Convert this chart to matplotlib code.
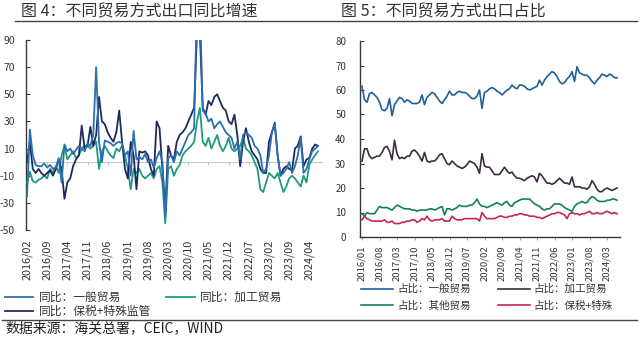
import numpy as np
import pandas as pd
import matplotlib
matplotlib.use("Agg")
import matplotlib.pyplot as plt
from matplotlib.lines import Line2D

plt.rcParams['font.family'] = ['Noto Sans CJK SC', 'DejaVu Sans']
plt.rcParams['axes.unicode_minus'] = False

# ---------------- data ----------------
yoy_months = pd.period_range("2016-02", "2024-07", freq="M").strftime("%Y/%m").tolist()
share_months = pd.period_range("2016-01", "2024-07", freq="M").strftime("%Y/%m").tolist()

yoy_ticks = ["2016/02", "2016/09", "2017/04", "2017/11", "2018/06", "2019/01", "2019/08",
             "2020/03", "2020/10", "2021/05", "2021/12", "2022/07", "2023/02", "2023/09", "2024/04"]
share_ticks = ["2016/01", "2016/08", "2017/03", "2017/10", "2018/05", "2018/12", "2019/07",
               "2020/02", "2020/09", "2021/04", "2021/11", "2022/06", "2023/01", "2023/08", "2024/03"]

# year-on-year growth, %
yoy_general = [-25, 24, 5, -2, -3, -3, -1, -4, -2, -5,
               -4, 3, -15, 13, 8, 10, 6, 9, 12, 10,
               8, 14, 12, 20, 70, 15, 0, 16, 15, 14,
               12, 14, 15, 14, 5, 8, -10, 23, 2, 4,
               2, 6, 0, 2, -4, 3, 8, 0, -40, 3,
               5, 0, 8, 5, 10, 15, 20, 22, 25, 120,
               120, 38, 36, 30, 32, 25, 28, 30, 26, 22,
               20, 18, 10, 15, 2, 20, 22, 20, 18, 12,
               10, 5, -8, -5, 5, 22, 28, 5, -10, -8,
               -5, 0, -8, -3, 5, 18, -8, -5, 2, 8,
               10, 12]
yoy_processing = [-15, -7, -14, -15, -13, -12, -10, -12, -5, -8,
                  -3, -8, 5, 12, 2, 5, 8, 3, 5, 10,
                  12, 12, 10, 12, 15, -5, 8, 12, 8, 5,
                  3, 10, 8, 12, 5, -5, -20, -5, -8, -5,
                  -10, -12, -10, -8, -12, -5, -3, -15, -45, -5,
                  -3, -10, -5, -2, 5, 8, 10, 12, 15, 30,
                  40, 15, 12, 18, 10, 15, 20, 12, 8, 12,
                  18, 10, 8, 10, 12, 18, 10, 8, 5, 0,
                  -5, -20, -22, -15, -8, -10, -12, -8, -15, -22,
                  -18, -12, -10, -12, -15, -18, -10, -15, -2, 2,
                  5, 8]
yoy_bonded = [0, 15, -5, -8, -5, -8, -10, -8, -6, -10,
              -5, 2, -5, -27, -15, -12, -3, 2, 5, 27,
              10, 12, 26, 12, 20, 48, 30, 28, 22, 18,
              15, 22, 38, 15, -5, -12, 15, 5, -20, 8,
              7, 8, 5, -5, -10, 30, 25, -5, -35, 12,
              5, 2, 15, 20, 22, 25, 30, 35, 40, 95,
              95, 40, 35, 45, 42, 48, 50, 45, 40, 38,
              30, 28, 35, 20, -3, 15, 25, 15, 8, 5,
              2, -5, -8, -8, 15, 22, 29, 5, -10, -5,
              -3, -5, -6, 10, 12, 19, -3, 2, 3, 10,
              13, 12]

# share of total exports, %
share_general = [61.5, 56, 55, 58.5, 59, 58, 57, 55, 52, 51.5,
                 52.5, 56.5, 49.5, 54, 55.5, 57, 56.5, 55, 56, 55.5,
                 54.5, 54.5, 54.5, 55, 58, 54, 57, 58, 59, 58.5,
                 57, 55.5, 54.5, 56, 57.5, 59.5, 58, 58, 59, 59.5,
                 59, 59, 58.5, 57.5, 56.5, 56.5, 57.5, 60, 52.5, 59,
                 59.5, 60.5, 61, 60.5, 59.5, 59, 58, 59, 60, 60.5,
                 62, 61, 60.5, 62, 62, 61.5, 60.5, 60, 60.5, 61,
                 61.5, 64, 62, 64, 65.5, 66.5, 67.5, 67, 65.5, 63.5,
                 62.5, 63, 64.5, 65.5, 67.5, 63.5, 69.5, 67, 66.5, 66,
                 66, 65, 63.5, 62.5, 64, 65, 66.5, 66, 65.5, 66.5,
                 66, 65, 65]
share_processing = [31, 36, 36, 33, 32, 32.5, 33, 33, 34.5, 36.5,
                    37, 35, 31.5, 39.5, 34, 32, 32.5, 32, 33, 33,
                    35, 35.5, 34.5, 33, 31, 34.5, 31, 30.5, 31, 31,
                    32, 33.5, 34, 32, 30, 29.5, 31, 30, 29, 28.5,
                    28, 28.5, 29.5, 31, 30.5, 30, 28.5, 26, 34, 29,
                    28.5, 28.5, 27, 25.5, 25.5, 25.5, 27, 28.5, 27, 26,
                    26.5, 25, 24, 24, 23.5, 23, 24, 24.5, 25, 24.5,
                    22.5, 26, 25, 23.5, 22, 22, 21.5, 22, 23, 24,
                    23, 22, 22, 21.5, 24.5, 20.5, 20.5, 20.5, 20, 20,
                    19.5, 20.5, 23, 21.5, 19.5, 18.5, 18.5, 19.5, 20, 19.5,
                    19, 19.5, 20]
share_other = [9.5, 8.5, 10, 9.5, 9.5, 9.5, 11, 12.5, 12, 12,
               12, 11.5, 11, 12, 13, 12.5, 12, 11.5, 11.5, 11.5,
               11, 11, 10.5, 11, 11, 11, 11, 11.5, 11.5, 11,
               11.5, 12, 12.5, 9, 11.5, 11.5, 11, 11.5, 12, 13,
               12.5, 12.5, 12.5, 13, 13, 14, 15.5, 13.5, 12.5, 12.5,
               12, 12.5, 13, 13.5, 14, 13.5, 13, 14, 14.5, 13,
               12.5, 14, 14.5, 15, 15.5, 15.5, 15.5, 15.5, 14.5, 13.5,
               13, 12.5, 11.5, 11, 11.5, 11.5, 12.5, 13.5, 13.5, 13.5,
               13, 12, 11.5, 11, 10.5, 12.5, 13.5, 14, 14.5, 14,
               14, 15.5, 16.5, 16, 15, 14.5, 14.5, 14.5, 15, 15,
               15.5, 15.5, 15]
share_bonded = [7, 8.5, 7.5, 7, 6.5, 6.5, 6.5, 6.5, 6.5, 7,
                6, 6, 6.5, 5.5, 5.5, 5.5, 6, 6, 6.5, 6.5,
                7, 7, 6, 6.5, 7.5, 7, 8.5, 7, 6.5, 7,
                7, 7, 7.5, 6.5, 6.5, 6.5, 8.5, 7.5, 7, 7,
                7, 7.5, 7.5, 7.5, 7.5, 7.5, 7.5, 6.5, 10, 8.5,
                7.5, 7.5, 7.5, 7.5, 8, 8.5, 8.5, 8, 8, 8.5,
                8.5, 9, 9, 9.5, 9.5, 9, 9, 8.5, 8.5, 8.5,
                8, 8, 7.5, 8, 8.5, 9, 9.5, 9.5, 10, 10,
                9.5, 9, 7.5, 9.5, 10, 9.5, 9.5, 9, 9.5, 9.5,
                10, 10.5, 9.5, 9.5, 10, 9.5, 9.5, 10, 10.5, 10,
                9.5, 10, 9.5]

# ---------------- figure ----------------
W, H = 640, 344
fig = plt.figure(figsize=(W / 100, H / 100), dpi=100)
fig.patch.set_facecolor("white")


def rect(x0, y0, x1, y1):
    """Pixel box (top-left origin) -> figure fraction rect."""
    return [x0 / W, 1 - y1 / H, (x1 - x0) / W, (y1 - y0) / H]


def fx(x):
    return x / W


def fy(y):
    return 1 - y / H


text_col = "#333333"
axis_col = "#3a3a3a"

# titles and rules
fig.text(fx(21), fy(12), "图 4：不同贸易方式出口同比增速", fontsize=11.5,
         color=text_col, va="center", ha="left")
fig.text(fx(341), fy(12), "图 5：不同贸易方式出口占比", fontsize=11.5,
         color=text_col, va="center", ha="left")
fig.add_artist(Line2D([fx(15), fx(637)], [fy(20.5), fy(20.5)], color="#444444", lw=1.0))
fig.add_artist(Line2D([fx(2), fx(637)], [fy(319.5), fy(319.5)], color="#444444", lw=1.0))
fig.text(fx(5), fy(328), "数据来源：海关总署，CEIC，WIND", fontsize=10,
         color="#222222", va="center", ha="left")

# ---------------- left: YoY growth ----------------
c_gen, c_proc, c_bond = "#2a6fb0", "#1f9a80", "#1e2a5e"
ax1 = fig.add_axes(rect(26, 40, 322, 230))
x1 = np.arange(len(yoy_months))
ax1.plot(x1, yoy_processing, color=c_proc, lw=1.3, zorder=3, label="同比：加工贸易")
ax1.plot(x1, yoy_bonded, color=c_bond, lw=1.3, zorder=3.5, label="同比：保税+特殊监管")
ax1.plot(x1, yoy_general, color=c_gen, lw=1.3, zorder=4, label="同比：一般贸易")
ax1.set_ylim(-50, 90)
ax1.set_xlim(-0.35, 102.4)
ax1.set_yticks(np.arange(-50, 91, 20))
for s in ("top", "right", "bottom"):
    ax1.spines[s].set_visible(False)
ax1.spines["left"].set_color(axis_col)
ax1.spines["left"].set_linewidth(1.0)
ax1.tick_params(axis="y", direction="in", length=3, width=0.8, color=axis_col,
                labelsize=7.5, labelcolor=text_col, pad=8)
ax1.set_xticks([yoy_months.index(t) for t in yoy_ticks])
ax1.set_xticklabels(yoy_ticks, rotation=90, fontsize=7.8, color=text_col)
ax1.tick_params(axis="x", length=0, pad=7)
# category axis crossing at zero
zero_ax = ax1.secondary_xaxis(50 / 140)
zero_ax.set_xticks([yoy_months.index(t) for t in yoy_ticks])
zero_ax.set_xticklabels([])
zero_ax.tick_params(axis="x", direction="out", length=2.5, width=0.6, color="#bbbbbb")
zero_ax.spines["bottom"].set_color("#c8c8c8")
zero_ax.spines["bottom"].set_linewidth(0.8)
ax1.set_facecolor("none")

h = {l.get_label(): l for l in ax1.get_lines()}
fig.legend([h["同比：一般贸易"], h["同比：保税+特殊监管"], h["同比：加工贸易"]],
           ["同比：一般贸易", "同比：保税+特殊监管", "同比：加工贸易"],
           ncol=2, loc="upper left", bbox_to_anchor=(fx(5), fy(291)),
           frameon=False, fontsize=8.5, handlelength=2.4, handletextpad=0.45,
           columnspacing=1.3, labelspacing=0.1, borderpad=0, borderaxespad=0,
           labelcolor=text_col)

# ---------------- right: share ----------------
s_gen, s_proc, s_other, s_bond = "#1f5f98", "#3d2a45", "#13805f", "#c8254f"
ax2 = fig.add_axes(rect(360, 41, 620, 237))
x2 = np.arange(len(share_months))
ax2.plot(x2, share_general, color=s_gen, lw=1.2, label="占比：一般贸易")
ax2.plot(x2, share_processing, color=s_proc, lw=1.2, label="占比：加工贸易")
ax2.plot(x2, share_other, color=s_other, lw=1.2, label="占比：其他贸易")
ax2.plot(x2, share_bonded, color=s_bond, lw=1.2, label="占比：保税+特殊")
ax2.set_ylim(0, 80)
ax2.set_xlim(-0.8, 103.2)
ax2.set_yticks(np.arange(0, 81, 10))
for s in ("top", "right"):
    ax2.spines[s].set_visible(False)
for s in ("left", "bottom"):
    ax2.spines[s].set_color(axis_col)
    ax2.spines[s].set_linewidth(1.0)
ax2.tick_params(axis="y", direction="in", length=3, width=0.8, color=axis_col,
                labelsize=7, labelcolor=text_col, pad=10)
ax2.set_xticks([share_months.index(t) for t in share_ticks])
ax2.set_xticklabels(share_ticks, rotation=90, fontsize=6.8, color=text_col)
ax2.tick_params(axis="x", direction="out", length=2, width=0.6, color="#999999", pad=4)
ax2.set_facecolor("none")

g = {l.get_label(): l for l in ax2.get_lines()}
order = ["占比：一般贸易", "占比：其他贸易", "占比：加工贸易", "占比：保税+特殊"]
fig.legend([g[k] for k in order], order,
           ncol=2, loc="upper left", bbox_to_anchor=(fx(361), fy(284)),
           frameon=False, fontsize=7.6, handlelength=3.0, handletextpad=0.4,
           columnspacing=2.6, labelspacing=0.6, borderpad=0, borderaxespad=0,
           labelcolor=text_col)

fig.savefig("out.png", dpi=100, facecolor="white")
